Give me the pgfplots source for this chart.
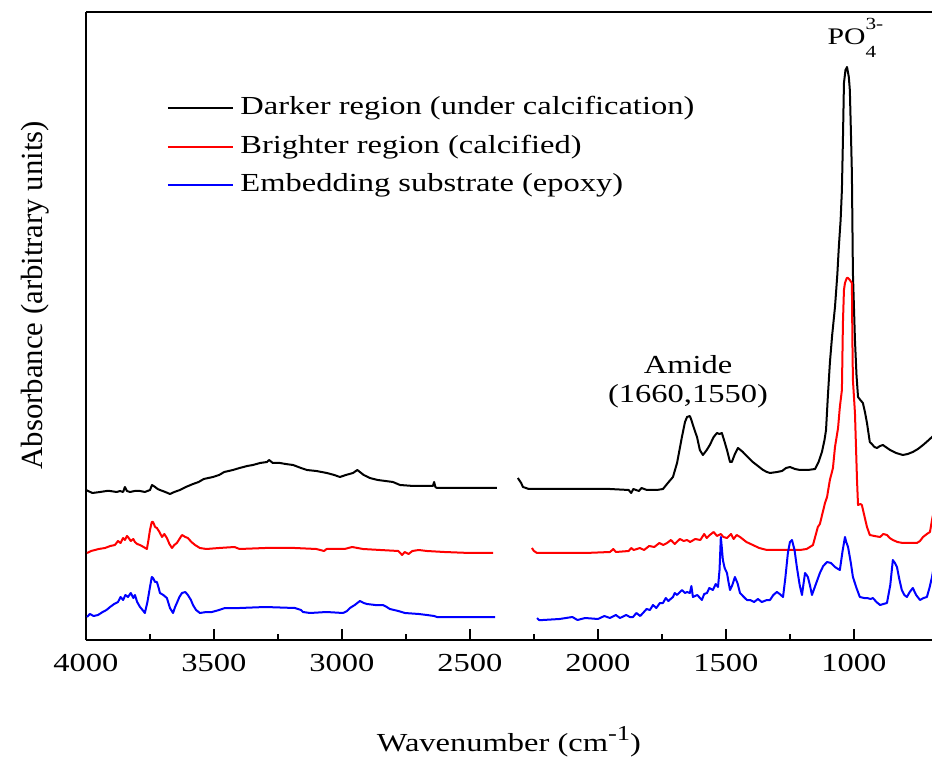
\documentclass[border=0pt]{standalone}
\usepackage{fontspec}
\setmainfont{Liberation Serif}[FakeStretch=1.25]
\newfontfamily\plainserif{Liberation Serif}
\usepackage{pgfplots}
\pgfplotsset{compat=1.18}

\begin{document}
\begin{tikzpicture}
\begin{axis}[
  scale only axis,
  width=338.4pt, height=251.2pt,
  x dir=reverse,
  xmin=695, xmax=4000,
  ymin=0, ymax=628,
  axis x line*=box,
  axis y line*=left,
  axis line style={line width=0.8pt, black},
  xtick={1000,1500,2000,2500,3000,3500,4000},
  minor x tick num=1,
  xtick pos=bottom,
  ytick=\empty,
  tick align=inside,
  major tick length=4.4pt,
  minor tick length=2.4pt,
  every tick/.style={line width=0.8pt, black},
  /pgf/number format/assume math mode=true,
  /pgf/number format/1000 sep={},
  xticklabel style={font=\fontsize{10.4}{12}\selectfont, yshift=-2pt},
  xlabel={Wavenumber (cm\raisebox{0.9ex}{\fontsize{8.5}{9}\selectfont -1})},
  xlabel style={at={(axis description cs:0.5,-0.1624)}, anchor=center, font=\fontsize{10.4}{12}\selectfont},
  ylabel={Absorbance (arbitrary units)},
  ylabel style={at={(axis description cs:-0.0603,0.549)}, anchor=center, font=\plainserif\fontsize{12.3}{14}\selectfont},
  legend style={at={(axis description cs:0.0957,0.868)}, anchor=north west,
    draw=none, fill=none, inner sep=0pt, outer sep=0pt,
    row sep=4.9pt, column sep=2.6pt,
    font=\fontsize{10.4}{12}\selectfont,
    nodes={inner sep=0pt, text height=8pt, text depth=2.5pt}},
  legend cell align=left,
  legend image code/.code={\draw[#1, line width=0.8pt] (0pt,0pt) -- (26pt,0pt);},
  every axis plot/.append style={line width=0.8pt, line join=round},
]

% Darker region (under calcification)
\addplot[black] coordinates {
(4000,150) (3975,147) (3945,148) (3920,149) (3906,149) (3880,148) (3867,149) (3855,148)
(3848,153) (3840,149) (3828,148) (3810,149) (3789,149) (3770,148) (3750,150) (3742,155)
(3730,153) (3720,151) (3711,150) (3690,148) (3672,146) (3655,148) (3633,150) (3610,153)
(3582,156) (3560,158) (3540,161) (3504,163) (3480,165) (3460,168) (3426,170) (3400,172)
(3370,174) (3348,175) (3320,177) (3293,178) (3285,180) (3270,177) (3242,177) (3220,176)
(3191,175) (3160,172) (3137,170) (3100,169) (3059,167) (3030,165) (3008,163) (2985,165)
(2957,167) (2940,170) (2930,168) (2915,165) (2891,162) (2860,160) (2830,159) (2801,158)
(2773,155) (2720,154) (2680,154) (2645,154) (2640,158) (2635,153) (2629,152) (2500,152)
(2395,152)
};
\addlegendentry{Darker region (under calcification)}

% Brighter region (calcified)
\addplot[red] coordinates {
(3996,87) (3980,89) (3965,90) (3950,91) (3926,92) (3905,94) (3887,95) (3875,99)
(3865,97) (3855,102) (3848,100) (3840,104) (3836,103) (3825,99) (3815,101) (3809,98)
(3800,96) (3789,95) (3775,93) (3762,91) (3756,100) (3750,110) (3743,118) (3738,118)
(3730,113) (3723,112) (3713,108) (3703,103) (3694,106) (3684,102) (3674,96) (3664,92)
(3655,95) (3645,97) (3635,101) (3625,105) (3612,103) (3602,102) (3588,98) (3574,95)
(3555,92) (3530,91) (3480,92) (3420,93) (3400,91) (3300,92) (3184,92) (3100,91)
(3070,89) (3060,91) (2990,91) (2960,93) (2918,91) (2850,90) (2780,89) (2765,85)
(2755,88) (2740,86) (2725,89) (2700,90) (2668,89) (2600,88) (2500,87) (2410,87)
};
\addlegendentry{Brighter region (calcified)}

% Embedding substrate (epoxy)
\addplot[blue] coordinates {
(3996,23) (3985,26) (3970,24) (3953,25) (3935,28) (3920,30) (3906,33) (3890,36)
(3875,38) (3865,43) (3855,40) (3846,45) (3836,43) (3825,47) (3815,42) (3809,45)
(3800,38) (3789,33) (3779,30) (3770,27) (3760,38) (3750,53) (3743,63) (3738,62)
(3730,58) (3723,58) (3716,52) (3711,47) (3698,45) (3684,42) (3672,32) (3660,27)
(3652,33) (3645,37) (3635,43) (3625,47) (3612,48) (3602,45) (3590,40) (3582,35)
(3570,30) (3555,27) (3530,28) (3508,28) (3480,30) (3457,32) (3400,32) (3300,33)
(3184,32) (3160,30) (3152,28) (3125,27) (3060,28) (2996,27) (2980,29) (2969,32)
(2950,35) (2930,39) (2915,37) (2902,36) (2870,35) (2840,35) (2825,33) (2813,31)
(2780,29) (2754,27) (2700,26) (2668,25) (2640,24) (2629,23) (2500,23) (2402,23)
};
\addlegendentry{Embedding substrate (epoxy)}

% second segments, beyond the gap
\addplot[black, forget plot] coordinates {
(2313,162) (2300,157) (2293,153) (2270,151) (2258,151) (2100,151) (1953,151) (1880,150)
(1870,147) (1862,151) (1840,149) (1830,152) (1809,150) (1770,150) (1746,151) (1727,157)
(1707,163) (1691,177) (1680,192) (1672,203) (1660,218) (1652,223) (1641,224) (1635,220)
(1629,215) (1620,208) (1613,203) (1602,190) (1590,185) (1575,190) (1563,195) (1548,203)
(1535,207) (1525,206) (1516,207) (1505,198) (1496,190) (1484,178) (1477,178) (1465,186)
(1453,192) (1443,190) (1434,188) (1415,183) (1395,178) (1375,174) (1355,170) (1340,168)
(1328,167) (1300,168) (1281,169) (1265,172) (1250,173) (1230,171) (1211,170) (1180,170)
(1152,171) (1138,178) (1125,188) (1115,200) (1109,210) (1102,243) (1094,277) (1085,305)
(1074,333) (1065,365) (1059,393) (1052,420) (1047,450) (1043,500) (1039,557) (1033,570)
(1027,573) (1020,563) (1016,550) (1012,510) (1008,467) (1004,367) (996,300) (990,265)
(984,243) (975,240) (965,237) (957,228) (949,217) (938,198) (930,196) (920,193)
(910,192) (898,194) (887,195) (870,192) (859,190) (835,187) (809,185) (790,186)
(770,188) (750,191) (730,195) (712,199) (695,203) (670,210)
};
\addplot[red, forget plot] coordinates {
(2258,92) (2250,89) (2238,87) (2150,87) (2050,87) (1953,88) (1940,91) (1930,88)
(1880,89) (1870,92) (1860,90) (1836,92) (1820,90) (1800,94) (1780,93) (1760,97)
(1745,95) (1730,97) (1715,100) (1700,96) (1680,101) (1665,99) (1652,100) (1640,98)
(1620,101) (1600,100) (1585,106) (1575,102) (1563,105) (1548,108) (1535,104) (1520,106)
(1510,103) (1496,102) (1480,106) (1470,101) (1458,105) (1445,103) (1420,98) (1395,95)
(1370,92) (1340,90) (1300,90) (1250,90) (1211,90) (1185,91) (1172,93) (1160,95)
(1141,113) (1133,116) (1113,137) (1105,143) (1094,160) (1082,172) (1074,193) (1062,212)
(1055,233) (1047,250) (1043,317) (1039,350) (1035,357) (1028,362) (1023,362) (1016,360)
(1008,357) (1006,300) (1004,260) (996,227) (988,160) (984,135) (975,136) (969,135)
(960,125) (949,113) (938,105) (920,104) (898,103) (885,106) (871,105) (860,102)
(848,100) (830,98) (809,97) (780,97) (754,97) (742,99) (730,103) (715,106)
(703,108) (695,120) (680,140)
};
\addplot[blue, forget plot] coordinates {
(2238,22) (2230,20) (2215,20) (2150,21) (2100,23) (2080,20) (2050,22) (2000,21)
(1975,24) (1953,22) (1930,25) (1914,22) (1890,25) (1875,23) (1863,23) (1850,27)
(1835,24) (1824,27) (1810,31) (1797,30) (1785,35) (1772,32) (1758,37) (1746,37)
(1735,42) (1725,39) (1707,43) (1700,47) (1691,45) (1672,50) (1660,47) (1652,48)
(1641,47) (1635,54) (1629,43) (1612,45) (1594,40) (1585,46) (1574,47) (1565,52)
(1551,50) (1540,56) (1531,53) (1525,70) (1520,103) (1516,92) (1512,80) (1505,72)
(1496,67) (1490,58) (1484,50) (1475,55) (1465,63) (1455,57) (1445,47) (1430,43)
(1418,40) (1406,40) (1390,38) (1375,41) (1360,38) (1340,40) (1328,40) (1315,45)
(1301,48) (1290,46) (1277,43) (1268,62) (1258,87) (1250,98) (1242,100) (1232,90)
(1223,73) (1212,55) (1203,45) (1196,58) (1191,67) (1185,65) (1180,63) (1172,55)
(1164,45) (1150,55) (1133,67) (1120,74) (1105,78) (1090,77) (1074,73) (1062,71)
(1055,70) (1045,88) (1035,103) (1030,98) (1023,93) (1012,77) (1004,63) (990,52)
(977,43) (960,42) (949,42) (935,41) (926,42) (912,38) (898,35) (885,36)
(871,37) (858,55) (848,80) (840,77) (832,73) (822,60) (813,50) (803,45)
(793,43) (782,48) (770,52) (757,45) (742,40) (728,42) (715,43) (705,52)
(695,63) (680,85)
};

% band labels
\node[font=\fontsize{10.4}{12}\selectfont, anchor=center] at (axis cs:1648,275) {Amide};
\node[font=\fontsize{10.4}{12}\selectfont, anchor=center] at (axis cs:1648,244) {(1660,1550)};
\node[font=\fontsize{9.5}{11}\selectfont, anchor=base west, inner sep=0pt] at (axis cs:1105,595)
  {PO\rlap{\raisebox{-5pt}{\fontsize{6.8}{7}\selectfont 4}}\raisebox{6pt}{\fontsize{6.8}{7}\selectfont 3-}};

\coordinate (ll) at (rel axis cs:0,0);
\coordinate (ur) at (rel axis cs:1,1);
\end{axis}
\pgfresetboundingbox
\path ([shift={(-34.4pt,-47.6pt)}]ll) rectangle ([shift={(0pt,4.8pt)}]ur);
\end{tikzpicture}
\end{document}
